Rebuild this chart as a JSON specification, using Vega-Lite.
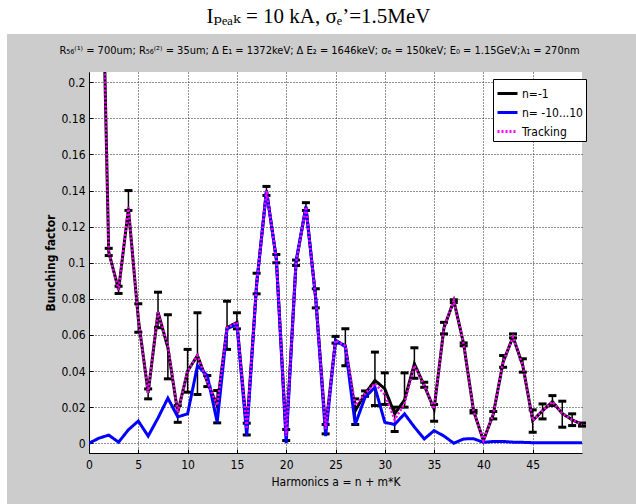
{
  "$schema": "https://vega.github.io/schema/vega-lite/v6.json",
  "background": "#cccccc",
  "padding": 0,
  "bounds": "flush",
  "spacing": 0,
  "config": {
    "view": {"stroke": null},
    "font": "Liberation Sans Narrow, DejaVu Sans Condensed, Liberation Sans",
    "axis": {
      "labelFont": "Liberation Sans Narrow, DejaVu Sans Condensed, Liberation Sans",
      "titleFont": "Liberation Sans Narrow, DejaVu Sans Condensed, Liberation Sans",
      "labelColor": "black", "titleColor": "black", "domainColor": "black", "tickColor": "black",
      "labelFontSize": 12, "titleFontSize": 12,
      "gridColor": "#222222", "gridDash": [1, 2], "gridOpacity": 1, "gridWidth": 1,
      "labelFlush": false, "labelOverlap": false
    }
  },
  "datasets": {
    "series": [
      {"s": "n=-1", "x": 1, "y": 0.36, "lo": null, "hi": null},
      {"s": "n=-1", "x": 2, "y": 0.106, "lo": 0.104, "hi": 0.108},
      {"s": "n=-1", "x": 3, "y": 0.085, "lo": 0.083, "hi": 0.087},
      {"s": "n=-1", "x": 4, "y": 0.130, "lo": 0.129, "hi": 0.140},
      {"s": "n=-1", "x": 5, "y": 0.069, "lo": 0.0615, "hi": 0.0773},
      {"s": "n=-1", "x": 6, "y": 0.028, "lo": 0.0246, "hi": 0.0301},
      {"s": "n=-1", "x": 7, "y": 0.0726, "lo": 0.064, "hi": 0.0837},
      {"s": "n=-1", "x": 8, "y": 0.053, "lo": 0.0357, "hi": 0.0712},
      {"s": "n=-1", "x": 9, "y": 0.017, "lo": 0.0116, "hi": 0.0209},
      {"s": "n=-1", "x": 10, "y": 0.040, "lo": 0.0283, "hi": 0.052},
      {"s": "n=-1", "x": 11, "y": 0.0486, "lo": 0.027, "hi": 0.0723},
      {"s": "n=-1", "x": 12, "y": 0.034, "lo": 0.0314, "hi": 0.0375},
      {"s": "n=-1", "x": 13, "y": 0.021, "lo": 0.0113, "hi": 0.0292},
      {"s": "n=-1", "x": 14, "y": 0.064, "lo": 0.052, "hi": 0.0787},
      {"s": "n=-1", "x": 15, "y": 0.067, "lo": 0.0634, "hi": 0.0723},
      {"s": "n=-1", "x": 16, "y": 0.008, "lo": 0.0046, "hi": 0.0111},
      {"s": "n=-1", "x": 17, "y": 0.088, "lo": 0.0828, "hi": 0.0942},
      {"s": "n=-1", "x": 18, "y": 0.140, "lo": 0.1373, "hi": 0.1423},
      {"s": "n=-1", "x": 19, "y": 0.102, "lo": 0.100, "hi": 0.1046},
      {"s": "n=-1", "x": 20, "y": 0.004, "lo": 0.0015, "hi": 0.0076},
      {"s": "n=-1", "x": 21, "y": 0.100, "lo": 0.0985, "hi": 0.1015},
      {"s": "n=-1", "x": 22, "y": 0.131, "lo": 0.129, "hi": 0.1333},
      {"s": "n=-1", "x": 23, "y": 0.080, "lo": 0.075, "hi": 0.0856},
      {"s": "n=-1", "x": 24, "y": 0.008, "lo": 0.0052, "hi": 0.0104},
      {"s": "n=-1", "x": 25, "y": 0.057, "lo": 0.0555, "hi": 0.0592},
      {"s": "n=-1", "x": 26, "y": 0.054, "lo": 0.043, "hi": 0.0634},
      {"s": "n=-1", "x": 27, "y": 0.018, "lo": 0.0104, "hi": 0.0246},
      {"s": "n=-1", "x": 28, "y": 0.0275, "lo": 0.026, "hi": 0.029},
      {"s": "n=-1", "x": 29, "y": 0.0348, "lo": 0.0209, "hi": 0.0505},
      {"s": "n=-1", "x": 30, "y": 0.0302, "lo": 0.0215, "hi": 0.039},
      {"s": "n=-1", "x": 31, "y": 0.0163, "lo": 0.0065, "hi": 0.020},
      {"s": "n=-1", "x": 32, "y": 0.024, "lo": 0.020, "hi": 0.039},
      {"s": "n=-1", "x": 33, "y": 0.044, "lo": 0.036, "hi": 0.0529},
      {"s": "n=-1", "x": 34, "y": 0.032, "lo": 0.031, "hi": 0.0338},
      {"s": "n=-1", "x": 35, "y": 0.019, "lo": 0.0122, "hi": 0.0215},
      {"s": "n=-1", "x": 36, "y": 0.064, "lo": 0.0606, "hi": 0.067},
      {"s": "n=-1", "x": 37, "y": 0.079, "lo": 0.078, "hi": 0.0795},
      {"s": "n=-1", "x": 38, "y": 0.055, "lo": 0.054, "hi": 0.0556},
      {"s": "n=-1", "x": 39, "y": 0.018, "lo": 0.0168, "hi": 0.0182},
      {"s": "n=-1", "x": 40, "y": 0.0015, "lo": null, "hi": null},
      {"s": "n=-1", "x": 41, "y": 0.016, "lo": 0.0135, "hi": 0.0176},
      {"s": "n=-1", "x": 42, "y": 0.045, "lo": 0.0421, "hi": 0.0486},
      {"s": "n=-1", "x": 43, "y": 0.059, "lo": 0.0584, "hi": 0.0606},
      {"s": "n=-1", "x": 44, "y": 0.043, "lo": 0.0394, "hi": 0.0468},
      {"s": "n=-1", "x": 45, "y": 0.0126, "lo": 0.0061, "hi": 0.0185},
      {"s": "n=-1", "x": 46, "y": 0.018, "lo": 0.0135, "hi": 0.0218},
      {"s": "n=-1", "x": 47, "y": 0.023, "lo": 0.0209, "hi": 0.0264},
      {"s": "n=-1", "x": 48, "y": 0.0165, "lo": 0.0089, "hi": 0.0233},
      {"s": "n=-1", "x": 49, "y": 0.013, "lo": 0.0098, "hi": 0.0163},
      {"s": "n=-1", "x": 50, "y": 0.0104, "lo": 0.0095, "hi": 0.0112},

      {"s": "n= -10...10", "x": 0, "y": 0.0},
      {"s": "n= -10...10", "x": 1, "y": 0.0028},
      {"s": "n= -10...10", "x": 2, "y": 0.0045},
      {"s": "n= -10...10", "x": 3, "y": 0.0006},
      {"s": "n= -10...10", "x": 4, "y": 0.0075},
      {"s": "n= -10...10", "x": 5, "y": 0.0123},
      {"s": "n= -10...10", "x": 6, "y": 0.0040},
      {"s": "n= -10...10", "x": 7, "y": 0.0140},
      {"s": "n= -10...10", "x": 8, "y": 0.0250},
      {"s": "n= -10...10", "x": 9, "y": 0.0146},
      {"s": "n= -10...10", "x": 10, "y": 0.0163},
      {"s": "n= -10...10", "x": 11, "y": 0.043},
      {"s": "n= -10...10", "x": 12, "y": 0.0375},
      {"s": "n= -10...10", "x": 13, "y": 0.0116},
      {"s": "n= -10...10", "x": 14, "y": 0.0634},
      {"s": "n= -10...10", "x": 15, "y": 0.066},
      {"s": "n= -10...10", "x": 16, "y": 0.004},
      {"s": "n= -10...10", "x": 17, "y": 0.088},
      {"s": "n= -10...10", "x": 18, "y": 0.140},
      {"s": "n= -10...10", "x": 19, "y": 0.102},
      {"s": "n= -10...10", "x": 20, "y": 0.0},
      {"s": "n= -10...10", "x": 21, "y": 0.101},
      {"s": "n= -10...10", "x": 22, "y": 0.131},
      {"s": "n= -10...10", "x": 23, "y": 0.080},
      {"s": "n= -10...10", "x": 24, "y": 0.004},
      {"s": "n= -10...10", "x": 25, "y": 0.057},
      {"s": "n= -10...10", "x": 26, "y": 0.0535},
      {"s": "n= -10...10", "x": 27, "y": 0.0104},
      {"s": "n= -10...10", "x": 28, "y": 0.0255},
      {"s": "n= -10...10", "x": 29, "y": 0.031},
      {"s": "n= -10...10", "x": 30, "y": 0.0116},
      {"s": "n= -10...10", "x": 31, "y": 0.0104},
      {"s": "n= -10...10", "x": 32, "y": 0.0163},
      {"s": "n= -10...10", "x": 33, "y": 0.009},
      {"s": "n= -10...10", "x": 34, "y": 0.0024},
      {"s": "n= -10...10", "x": 35, "y": 0.007},
      {"s": "n= -10...10", "x": 36, "y": 0.004},
      {"s": "n= -10...10", "x": 37, "y": 0.0},
      {"s": "n= -10...10", "x": 38, "y": 0.0024},
      {"s": "n= -10...10", "x": 39, "y": 0.0025},
      {"s": "n= -10...10", "x": 40, "y": 0.0005},
      {"s": "n= -10...10", "x": 41, "y": 0.001},
      {"s": "n= -10...10", "x": 42, "y": 0.001},
      {"s": "n= -10...10", "x": 43, "y": 0.0006},
      {"s": "n= -10...10", "x": 44, "y": 0.0005},
      {"s": "n= -10...10", "x": 45, "y": 0.0003},
      {"s": "n= -10...10", "x": 46, "y": 0.0003},
      {"s": "n= -10...10", "x": 47, "y": 0.0003},
      {"s": "n= -10...10", "x": 48, "y": 0.0003},
      {"s": "n= -10...10", "x": 49, "y": 0.0003},
      {"s": "n= -10...10", "x": 50, "y": 0.0003},

      {"s": "Tracking", "x": 1, "y": 0.36},
      {"s": "Tracking", "x": 2, "y": 0.106},
      {"s": "Tracking", "x": 3, "y": 0.085},
      {"s": "Tracking", "x": 4, "y": 0.131},
      {"s": "Tracking", "x": 5, "y": 0.069},
      {"s": "Tracking", "x": 6, "y": 0.028},
      {"s": "Tracking", "x": 7, "y": 0.0726},
      {"s": "Tracking", "x": 8, "y": 0.054},
      {"s": "Tracking", "x": 9, "y": 0.017},
      {"s": "Tracking", "x": 10, "y": 0.040},
      {"s": "Tracking", "x": 11, "y": 0.0486},
      {"s": "Tracking", "x": 12, "y": 0.034},
      {"s": "Tracking", "x": 13, "y": 0.021},
      {"s": "Tracking", "x": 14, "y": 0.064},
      {"s": "Tracking", "x": 15, "y": 0.067},
      {"s": "Tracking", "x": 16, "y": 0.008},
      {"s": "Tracking", "x": 17, "y": 0.088},
      {"s": "Tracking", "x": 18, "y": 0.140},
      {"s": "Tracking", "x": 19, "y": 0.102},
      {"s": "Tracking", "x": 20, "y": 0.004},
      {"s": "Tracking", "x": 21, "y": 0.100},
      {"s": "Tracking", "x": 22, "y": 0.131},
      {"s": "Tracking", "x": 23, "y": 0.080},
      {"s": "Tracking", "x": 24, "y": 0.008},
      {"s": "Tracking", "x": 25, "y": 0.057},
      {"s": "Tracking", "x": 26, "y": 0.054},
      {"s": "Tracking", "x": 27, "y": 0.021},
      {"s": "Tracking", "x": 28, "y": 0.0275},
      {"s": "Tracking", "x": 29, "y": 0.033},
      {"s": "Tracking", "x": 30, "y": 0.027},
      {"s": "Tracking", "x": 31, "y": 0.013},
      {"s": "Tracking", "x": 32, "y": 0.022},
      {"s": "Tracking", "x": 33, "y": 0.043},
      {"s": "Tracking", "x": 34, "y": 0.032},
      {"s": "Tracking", "x": 35, "y": 0.019},
      {"s": "Tracking", "x": 36, "y": 0.064},
      {"s": "Tracking", "x": 37, "y": 0.079},
      {"s": "Tracking", "x": 38, "y": 0.055},
      {"s": "Tracking", "x": 39, "y": 0.018},
      {"s": "Tracking", "x": 40, "y": 0.0015},
      {"s": "Tracking", "x": 41, "y": 0.016},
      {"s": "Tracking", "x": 42, "y": 0.045},
      {"s": "Tracking", "x": 43, "y": 0.059},
      {"s": "Tracking", "x": 44, "y": 0.043},
      {"s": "Tracking", "x": 45, "y": 0.0126},
      {"s": "Tracking", "x": 46, "y": 0.018},
      {"s": "Tracking", "x": 47, "y": 0.023},
      {"s": "Tracking", "x": 48, "y": 0.0165},
      {"s": "Tracking", "x": 49, "y": 0.013},
      {"s": "Tracking", "x": 50, "y": 0.0104}
    ]
  },
  "hconcat": [
    {
      "width": 7, "height": 504,
      "view": {"fill": "white", "stroke": null},
      "data": {"values": []},
      "mark": "point"
    },
    {
      "bounds": "flush",
      "spacing": 38,
      "vconcat": [
        {
          "width": 629, "height": 34,
          "view": {"fill": "white", "stroke": null},
          "data": {"values": [{"t": "Iₚₑₐₖ = 10 kA, σₑ’=1.5MeV"}]},
          "mark": {"type": "text", "font": "Liberation Serif, DejaVu Serif", "fontSize": 21, "color": "black", "dx": -3, "baseline": "middle"},
          "encoding": {"text": {"field": "t"}}
        },
        {
          "bounds": "flush",
          "spacing": 0,
          "hconcat": [
            {
              "width": 82, "height": 381,
              "data": {"values": []},
              "mark": "point"
            },
            {
              "width": 493, "height": 381,
              "view": {"fill": "white", "stroke": null},
              "title": {
                "text": "R₅₆⁽¹⁾ = 700um; R₅₆⁽²⁾ = 35um; Δ E₁ = 1372keV; Δ E₂ = 1646keV; σₑ = 150keV; E₀ = 1.15GeV;λ₁ = 270nm",
                "font": "Liberation Sans Narrow, DejaVu Sans Condensed, Liberation Sans",
                "fontSize": 11, "fontWeight": "normal", "color": "black",
                "anchor": "middle", "offset": 16, "dx": -16
              },
              "data": {"name": "series"},
              "encoding": {
                "x": {
                  "field": "x", "type": "quantitative",
                  "scale": {"domain": [0, 50], "nice": false, "zero": false},
                  "axis": {
                    "values": [0, 5, 10, 15, 20, 25, 30, 35, 40, 45],
                    "title": "Harmonics a = n + m*K", "titleFontWeight": "normal",
                    "grid": true, "tickSize": -4, "labelPadding": 10, "titlePadding": 6
                  }
                },
                "y": {
                  "field": "y", "type": "quantitative",
                  "scale": {"domain": [-0.0054, 0.2057], "nice": false, "zero": false},
                  "axis": {
                    "values": [0, 0.02, 0.04, 0.06, 0.08, 0.1, 0.12, 0.14, 0.16, 0.18, 0.2],
                    "format": "~g",
                    "title": "Bunching factor", "titleFontWeight": "bold",
                    "grid": true, "tickSize": -4, "labelPadding": 8, "titlePadding": 3
                  }
                }
              },
              "layer": [
                {
                  "transform": [{"filter": "datum.s === 'n=-1'"}],
                  "mark": {"type": "line", "strokeWidth": 3, "clip": true},
                  "encoding": {
                    "color": {
                      "field": "s", "type": "nominal",
                      "scale": {"domain": ["n=-1", "n= -10...10", "Tracking"], "range": ["#000000", "#0000ff", "#ff00ff"]},
                      "legend": {
                        "orient": "none", "legendX": 493, "legendY": 79, "title": null,
                        "symbolType": "stroke", "symbolSize": 400, "symbolStrokeWidth": 3,
                        "labelFont": "Liberation Sans Narrow, DejaVu Sans Condensed, Liberation Sans",
                        "labelFontSize": 12, "labelColor": "black", "labelOffset": 3,
                        "fillColor": "white", "strokeColor": "black", "padding": 3, "rowPadding": 1
                      }
                    },
                    "strokeDash": {
                      "field": "s", "type": "nominal",
                      "scale": {"domain": ["n=-1", "n= -10...10", "Tracking"], "range": [[1, 0], [1, 0], [2, 2]]},
                      "legend": {
                        "orient": "none", "legendX": 493, "legendY": 79, "title": null,
                        "symbolType": "stroke", "symbolSize": 400, "symbolStrokeWidth": 3,
                        "labelFont": "Liberation Sans Narrow, DejaVu Sans Condensed, Liberation Sans",
                        "labelFontSize": 12, "labelColor": "black", "labelOffset": 3,
                        "fillColor": "white", "strokeColor": "black", "padding": 3, "rowPadding": 1
                      }
                    }
                  }
                },
                {
                  "transform": [{"filter": "datum.lo != null"}],
                  "mark": {"type": "rule", "color": "black", "strokeWidth": 1.5},
                  "encoding": {
                    "y": {"field": "lo", "type": "quantitative", "scale": {"domain": [-0.0054, 0.2057], "nice": false, "zero": false},
                      "axis": {"values": [0, 0.02, 0.04, 0.06, 0.08, 0.1, 0.12, 0.14, 0.16, 0.18, 0.2], "format": "~g", "title": "Bunching factor", "titleFontWeight": "bold", "grid": true, "tickSize": -4, "labelPadding": 8, "titlePadding": 3}},
                    "y2": {"field": "hi"}
                  }
                },
                {
                  "transform": [{"filter": "datum.lo != null"}],
                  "mark": {"type": "tick", "orient": "horizontal", "color": "black", "size": 8, "thickness": 3, "opacity": 1},
                  "encoding": {
                    "y": {"field": "lo", "type": "quantitative", "scale": {"domain": [-0.0054, 0.2057], "nice": false, "zero": false},
                      "axis": {"values": [0, 0.02, 0.04, 0.06, 0.08, 0.1, 0.12, 0.14, 0.16, 0.18, 0.2], "format": "~g", "title": "Bunching factor", "titleFontWeight": "bold", "grid": true, "tickSize": -4, "labelPadding": 8, "titlePadding": 3}}
                  }
                },
                {
                  "transform": [{"filter": "datum.lo != null"}],
                  "mark": {"type": "tick", "orient": "horizontal", "color": "black", "size": 8, "thickness": 3, "opacity": 1},
                  "encoding": {
                    "y": {"field": "hi", "type": "quantitative", "scale": {"domain": [-0.0054, 0.2057], "nice": false, "zero": false},
                      "axis": {"values": [0, 0.02, 0.04, 0.06, 0.08, 0.1, 0.12, 0.14, 0.16, 0.18, 0.2], "format": "~g", "title": "Bunching factor", "titleFontWeight": "bold", "grid": true, "tickSize": -4, "labelPadding": 8, "titlePadding": 3}}
                  }
                },
                {
                  "transform": [{"filter": "datum.s === 'n= -10...10'"}],
                  "mark": {"type": "line", "strokeWidth": 3, "clip": true},
                  "encoding": {
                    "color": {"field": "s", "type": "nominal"},
                    "strokeDash": {"field": "s", "type": "nominal"}
                  }
                },
                {
                  "transform": [{"filter": "datum.s === 'Tracking'"}],
                  "mark": {"type": "line", "strokeWidth": 2.5, "clip": true},
                  "encoding": {
                    "color": {"field": "s", "type": "nominal"},
                    "strokeDash": {"field": "s", "type": "nominal"}
                  }
                }
              ]
            }
          ]
        }
      ]
    }
  ]
}
